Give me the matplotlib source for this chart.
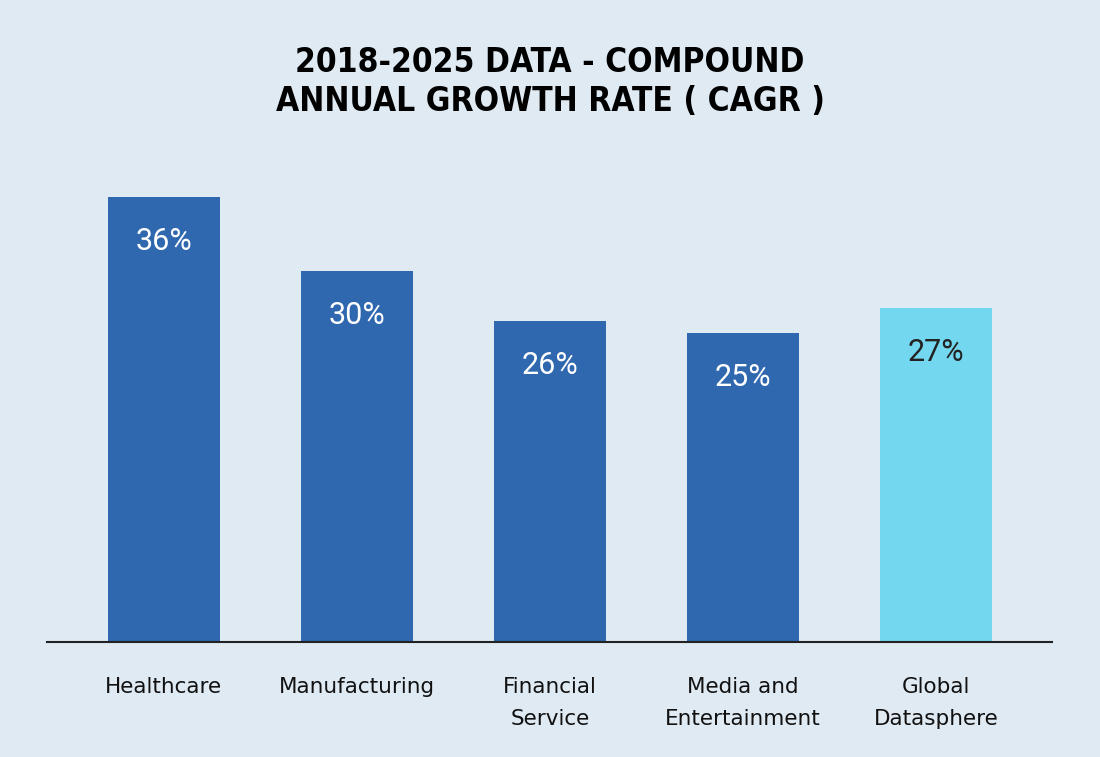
import matplotlib.pyplot as plt

# CAGR 2018-2025 by sector
sectors = ['Healthcare', 'Manufacturing', 'Financial\nService', 'Media and\nEntertainment', 'Global\nDatasphere']
cagr = [36, 30, 26, 25, 27]

bg = '#dfeaf3'
bar_colors = ['#2f68ae', '#2f68ae', '#2f68ae', '#2f68ae', '#72d7ef']
label_colors = ['white', 'white', 'white', 'white', '#222222']

fig = plt.figure(figsize=(11, 7.57), dpi=100, facecolor=bg)
ax = fig.add_axes([47 / 1100, 1 - 642 / 757, (1052 - 47) / 1100, (642 - 147.6) / 757])
ax.set_facecolor(bg)

x = range(len(sectors))
bars = ax.bar(x, cagr, width=0.58, color=bar_colors)

for b, v, c in zip(bars, cagr, label_colors):
    ax.annotate(f'{v}%', (b.get_x() + b.get_width() / 2, v), xytext=(0, -32),
                textcoords='offset points', ha='center', va='center',
                fontsize=22, color=c, family='Roboto')

ax.set_xlim(-0.605, 4.6)
ax.set_ylim(0, 40)
ax.set_xticks(list(x))
ax.set_xticklabels(sectors, fontsize=15.5, family='DejaVu Sans', color='#111111',
                   linespacing=1.75, va='top')
ax.tick_params(axis='x', length=0, pad=25)
ax.set_yticks([])
for s in ['top', 'right', 'left']:
    ax.spines[s].set_visible(False)
ax.spines['bottom'].set_color('#222222')
ax.spines['bottom'].set_linewidth(1.5)

fig.text(0.5, 1 - 82 / 757, '2018-2025 DATA - COMPOUND\nANNUAL GROWTH RATE ( CAGR )',
         ha='center', va='center', fontsize=24, fontweight='bold',
         family='DejaVu Sans', fontstretch='condensed', linespacing=1.2, color='black')

fig.savefig('out.png', dpi=100, facecolor=bg)
